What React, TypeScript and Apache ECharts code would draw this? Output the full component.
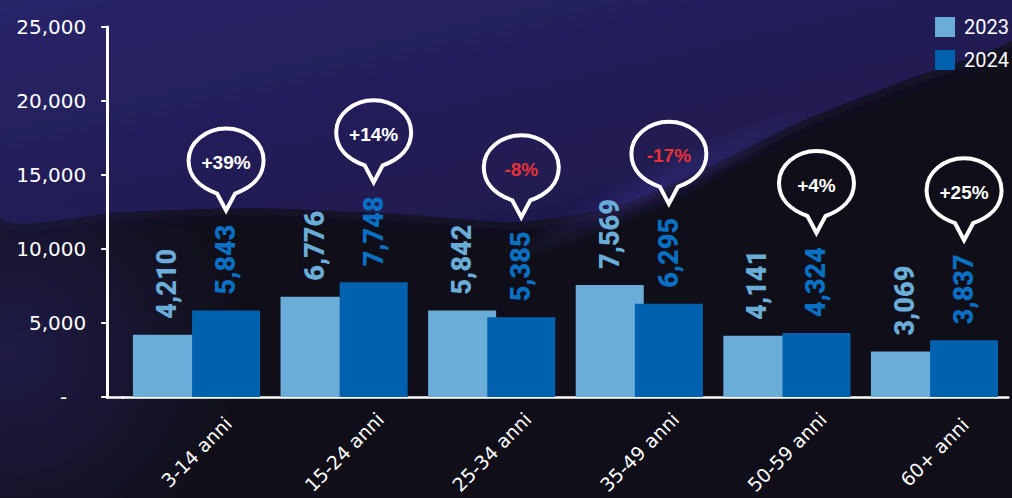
import React, { useEffect, useRef } from 'react';
import * as echarts from 'echarts';

const categories = ['3-14 anni', '15-24 anni', '25-34 anni', '35-49 anni', '50-59 anni', '60+ anni'];
const seriesNames = ['2023', '2024'];
const values2023 = [4210, 6776, 5842, 7569, 4141, 3069];
const values2024 = [5843, 7748, 5385, 6295, 4324, 3837];
const changeLabels = ['+39%', '+14%', '-8%', '-17%', '+4%', '+25%'];
const yMax = 25000;
const yStep = 5000;

const COLOR_2023 = '#6AADD8';
const COLOR_2024 = '#0062AF';
const LABEL_2024 = '#0A70C4';
const NEG_RED = '#E8323A';

const BAR_W = 68;
const BAR_GAP = -0.13;
const BUBBLE_PATH =
  'M0 0 L-9 -17 C-26 -23 -37.5 -34 -37.5 -50 C-37.5 -68 -20 -82 0 -82 C20 -82 37.5 -68 37.5 -50 C37.5 -34 26 -23 9 -17 Z';

const fmt = (v: number) => v.toLocaleString('en-US');

export default function App() {
  const ref = useRef<HTMLDivElement>(null);

  useEffect(() => {
    if (!ref.current) return;
    const chart = echarts.init(ref.current, null, { renderer: 'svg' });

    const bubbleData = values2024.map((v, i) => [i, v]);

    const option: any = {
      animation: false,
      backgroundColor: '#100f19',
      graphic: [
        {
          type: 'polygon',
          z: -10,
          silent: true,
          shape: {
            points: [
              [0, 0], [1012, 0], [1012, 40], [900, 82], [800, 122], [706, 168], [620, 205],
              [520, 222], [400, 214], [250, 208], [120, 212], [0, 218],
            ],
            smooth: 0.2,
          },
          style: {
            fill: new echarts.graphic.LinearGradient(0, 0, 1, 1, [
              { offset: 0, color: '#29266a' },
              { offset: 0.5, color: '#221d57' },
              { offset: 1, color: '#1c1646' },
            ]),
            shadowBlur: 20,
            shadowColor: 'rgba(28,23,70,0.85)',
          },
        },
        {
          type: 'circle',
          z: -9,
          silent: true,
          shape: { cx: 10, cy: 350, r: 230 },
          style: {
            fill: new echarts.graphic.RadialGradient(0.5, 0.5, 0.5, [
              { offset: 0, color: 'rgba(34,30,82,0.8)' },
              { offset: 1, color: 'rgba(34,30,82,0)' },
            ]),
          },
        },
        {
          type: 'ellipse',
          z: -8,
          silent: true,
          x: 660,
          y: 185,
          rotation: 0.45,
          shape: { cx: 0, cy: 0, rx: 170, ry: 22 },
          style: {
            fill: new echarts.graphic.RadialGradient(0.5, 0.5, 0.5, [
              { offset: 0, color: 'rgba(58,48,135,0.5)' },
              { offset: 1, color: 'rgba(58,48,135,0)' },
            ]),
          },
        },
        {
          type: 'line',
          z: 5,
          silent: true,
          shape: { x1: 106, y1: 397.5, x2: 124, y2: 397.5 },
          style: { stroke: '#ffffff', lineWidth: 2.5 },
        },
      ],
      legend: {
        data: seriesNames,
        orient: 'vertical',
        right: 3,
        top: 17,
        padding: 0,
        itemWidth: 20,
        itemHeight: 20,
        itemGap: 13,
        icon: 'rect',
        textStyle: { color: '#ffffff', fontSize: 20, fontFamily: 'Roboto', padding: [0, 0, 0, 4] },
      },
      grid: { left: 122.7, top: 27, width: 885.6, height: 370 },
      xAxis: {
        type: 'category',
        data: categories,
        axisLine: { show: true, lineStyle: { color: '#ffffff', width: 2.5 } },
        axisTick: { show: false },
        axisLabel: {
          interval: 0,
          rotate: 45,
          align: 'center',
          verticalAlign: 'middle',
          margin: 55,
          color: '#ffffff',
          fontSize: 19,
          fontFamily: 'DejaVu Sans',
        },
      },
      yAxis: {
        type: 'value',
        min: 0,
        max: yMax,
        interval: yStep,
        offset: 15.5,
        splitLine: { show: false },
        axisLine: { show: true, lineStyle: { color: '#ffffff', width: 3 } },
        axisTick: { show: true, length: 6, lineStyle: { color: '#ffffff', width: 2 } },
        axisLabel: {
          margin: 21,
          color: '#ffffff',
          fontSize: 20,
          fontFamily: 'DejaVu Sans',
          formatter: (v: number) => (v === 0 ? '{d|-}' : fmt(v)),
          rich: { d: { color: '#ffffff', fontSize: 20, fontFamily: 'DejaVu Sans', padding: [0, 19, 0, 0] } },
        },
      },
      series: [
        {
          name: seriesNames[0],
          type: 'bar',
          data: values2023,
          barWidth: BAR_W,
          barGap: `${BAR_GAP * 100}%`,
          itemStyle: { color: COLOR_2023 },
          label: {
            show: true,
            position: 'top',
            rotate: 90,
            align: 'left',
            verticalAlign: 'middle',
            distance: 16,
            color: COLOR_2023,
            fontSize: 27,
            fontWeight: 900,
            fontFamily: 'Roboto',
            formatter: (p: any) => fmt(p.value),
          },
        },
        {
          name: seriesNames[1],
          type: 'bar',
          data: values2024,
          barWidth: BAR_W,
          barGap: `${BAR_GAP * 100}%`,
          itemStyle: { color: COLOR_2024 },
          label: {
            show: true,
            position: 'top',
            rotate: 90,
            align: 'left',
            verticalAlign: 'middle',
            distance: 16,
            color: LABEL_2024,
            fontSize: 27,
            fontWeight: 900,
            fontFamily: 'Roboto',
            formatter: (p: any) => fmt(p.value),
          },
        },
        {
          name: 'change',
          type: 'custom',
          data: bubbleData,
          encode: { x: 0, y: 1 },
          z: 10,
          silent: true,
          renderItem: (params: any, api: any) => {
            const idx = api.value(0);
            const val = api.value(1);
            const p = api.coord([idx, val]);
            const off = (BAR_W + BAR_W * BAR_GAP) / 2;
            const x = p[0] + off;
            const tipY = p[1] - 100;
            const label = changeLabels[idx];
            const neg = label.startsWith('-');
            return {
              type: 'group',
              children: [
                {
                  type: 'path',
                  shape: { pathData: BUBBLE_PATH, x: x - 37.5, y: tipY - 82, width: 75, height: 82, layout: 'cover' },
                  style: { fill: 'none', stroke: '#ffffff', lineWidth: 4, lineJoin: 'miter', miterLimit: 10 },
                },
                {
                  type: 'text',
                  x: x,
                  y: tipY - 48,
                  style: {
                    text: label,
                    fill: neg ? NEG_RED : '#ffffff',
                    fontSize: 19,
                    fontWeight: 'bold',
                    fontFamily: 'Liberation Sans',
                    align: 'center',
                    verticalAlign: 'middle',
                  },
                },
              ],
            };
          },
        },
      ],
    };

    chart.setOption(option);
    return () => chart.dispose();
  }, []);

  return (
    <div
      ref={ref}
      style={{ position: 'absolute', left: 0, top: 0, width: 1012, height: 498 }}
    />
  );
}
